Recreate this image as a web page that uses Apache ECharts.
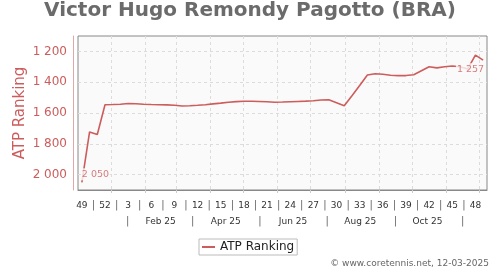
<!DOCTYPE html>
<html><head><meta charset="utf-8">
<script src="https://cdn.jsdelivr.net/npm/echarts@6/dist/echarts.min.js"></script>
<style>html,body{margin:0;padding:0;background:#fff}#c{width:500px;height:270px}</style>
</head><body><div id="c"></div>
<script>
// ---- data ----
const chartTitle = 'Victor Hugo Remondy Pagotto (BRA)';
const seriesName = 'ATP Ranking';
const weekStart = '2024-12-02';          // Monday of the first plotted week (week 49, 2024)
const axisEnd = '2025-12-08';            // end of last plotted week
const weeks = [49,50,51,52,1,2,3,4,5,6,7,8,9,10,11,12,13,14,15,16,17,18,19,20,21,22,23,24,25,26,27,28,29,30,31,32,33,34,35,36,37,38,39,40,41,42,43,44,45,46,47,48,49];
const ranking = [2050,1723,1740,1546,1545,1543,1538,1540,1543,1545,1546,1547,1550,1555,1553,1550,1546,1541,1536,1530,1526,1524,1524,1525,1527,1530,1529,1527,1525,1523,1520,1516,1514,1533,1553,1488,1422,1353,1345,1348,1355,1357,1357,1352,1326,1300,1307,1300,1295,1300,1314,1224,1257];
const weekLabelStep = 3;
const monthStarts = ['2025-01-01','2025-02-01','2025-03-01','2025-04-01','2025-05-01','2025-06-01','2025-07-01','2025-08-01','2025-09-01','2025-10-01','2025-11-01','2025-12-01'];
const monthLabelDates = ['2025-02-15','2025-04-15','2025-06-15','2025-08-15','2025-10-15'];
const monthLabelTexts = ['Feb 25','Apr 25','Jun 25','Aug 25','Oct 25'];
const monthSeparatorDates = ['2025-01-16','2025-03-16','2025-05-16','2025-07-16','2025-09-16','2025-11-16'];
const yTicks = [1200,1400,1600,1800,2000];
const yRange = [1100, 2100];
const credit = '\u00A9 www.coretennis.net, 12-03-2025';

// ---- helpers ----
const RED = '#cd5c5c';
const FONT = 'DejaVu Sans';
function dayOf(s){ const p=s.split('-').map(Number); return (Date.UTC(p[0],p[1]-1,p[2]) - Date.UTC(2025,0,1))/86400000; }
const x0 = dayOf(weekStart) + 3.5;       // mid-week position of first point
const xs = weeks.map((w,i)=> x0 + 7*i);
const lineData = ranking.map((v,i)=> [xs[i], v]);
const fmt = v => String(v).replace(/\B(?=(\d{3})+(?!\d))/g, ' ');

const weekLabelPos = [], weekSepPos = [];
for (let i=0;i<weeks.length;i+=weekLabelStep){ weekLabelPos.push(xs[i]); }
for (let k=0;k<weekLabelPos.length-1;k++){ weekSepPos.push((weekLabelPos[k]+weekLabelPos[k+1])/2); }
const monthTickPos = monthStarts.map(dayOf);
const monthLabelPos = monthLabelDates.map(dayOf);
const monthSepPos = monthSeparatorDates.map(dayOf);
const xMin = dayOf(weekStart), xMax = dayOf(axisEnd);

const chart = echarts.init(document.getElementById('c'), null, {renderer:'canvas'});
const baseX = {type:'value', gridIndex:0, min:xMin, max:xMax, position:'bottom'};
const last = ranking.length-1;

chart.setOption({
  animation:false,
  backgroundColor:'#fff',
  textStyle:{fontFamily:FONT},
  title:{text:chartTitle, left:'center', top:1, padding:0,
    textStyle:{fontFamily:FONT, fontSize:20, fontWeight:'bold', color:'#6b6b6b'}},
  grid:{left:78, right:13, top:36, bottom:80, show:true, backgroundColor:'#fafafa', borderColor:'#888', borderWidth:1, containLabel:false, outerBoundsMode:'none'},
  legend:{data:[seriesName], left:199, top:239, icon:'rect', itemWidth:13, itemHeight:2, padding:[2,3,2,3],
    borderColor:'#bbb', borderWidth:1, backgroundColor:'#fff',
    textStyle:{fontFamily:FONT, fontSize:12, color:'#222'}},
  xAxis:[
    Object.assign({}, baseX, {
      axisLine:{show:true, onZero:false, lineStyle:{color:'#888'}},
      axisTick:{show:true, customValues:monthTickPos, length:3, inside:false, lineStyle:{color:'#ccc'}},
      splitLine:{show:true, lineStyle:{color:'#dcdcdc', type:[3,3]}},
      axisLabel:{customValues:weekLabelPos, margin:11, fontFamily:FONT, fontSize:9, color:'#333',
        formatter:v=> String(weeks[Math.round((v-x0)/7)])}
    }),
    Object.assign({}, baseX, {
      axisLine:{show:false, onZero:false}, axisTick:{show:false}, splitLine:{show:false},
      axisLabel:{customValues:weekSepPos, margin:10, fontFamily:FONT, fontSize:10, color:'#666', formatter:()=> '|'}
    }),
    Object.assign({}, baseX, {
      offset:17,
      axisLine:{show:false, onZero:false}, axisTick:{show:false}, splitLine:{show:false},
      axisLabel:{customValues:monthLabelPos, margin:10, fontFamily:FONT, fontSize:9, color:'#333',
        formatter:v=>{ const k = monthLabelPos.findIndex(p=>Math.abs(p-v)<0.5); return k>=0 ? monthLabelTexts[k] : ''; }}
    }),
    Object.assign({}, baseX, {
      offset:17,
      axisLine:{show:false, onZero:false}, axisTick:{show:false}, splitLine:{show:false},
      axisLabel:{customValues:monthSepPos, margin:9, fontFamily:FONT, fontSize:10, color:'#666', formatter:()=> '|'}
    })
  ],
  yAxis:{type:'value', inverse:true, min:yRange[0], max:yRange[1], position:'left', offset:5,
    name:seriesName, nameLocation:'middle', nameGap:45, nameMoveOverlap:false,
    nameTextStyle:{fontFamily:FONT, fontSize:15, color:RED},
    axisLine:{show:true, onZero:false, lineStyle:{color:'rgba(205,92,92,0.55)'}},
    axisTick:{show:false, customValues:yTicks},
    axisLabel:{customValues:yTicks, margin:6, fontFamily:FONT, fontSize:12, color:RED, formatter:v=>fmt(v)},
    splitLine:{show:true, lineStyle:{color:'#dcdcdc', type:[3,3]}}
  },
  series:[
    {name:seriesName, type:'line', xAxisIndex:0, data:lineData, showSymbol:false, symbol:'none',
      lineStyle:{color:RED, width:1.6}, itemStyle:{color:RED}, z:3},
    {name:'labels', type:'scatter', xAxisIndex:0, symbolSize:0, z:4, silent:true,
      data:[
        {value:lineData[0], label:{show:true, position:[-1,-14], align:'left'}},
        {value:lineData[last], label:{show:true, position:[2,3], align:'right'}}
      ],
      label:{formatter:p=>fmt(p.value[1]), fontFamily:FONT, fontSize:9.5, color:RED, backgroundColor:'#fafafa', padding:[1,1,1,1]}
    }
  ],
  graphic:[{type:'text', right:11, top:259, style:{text:credit, font:'9px "DejaVu Sans"', fill:'#666'}}]
});
</script></body></html>
